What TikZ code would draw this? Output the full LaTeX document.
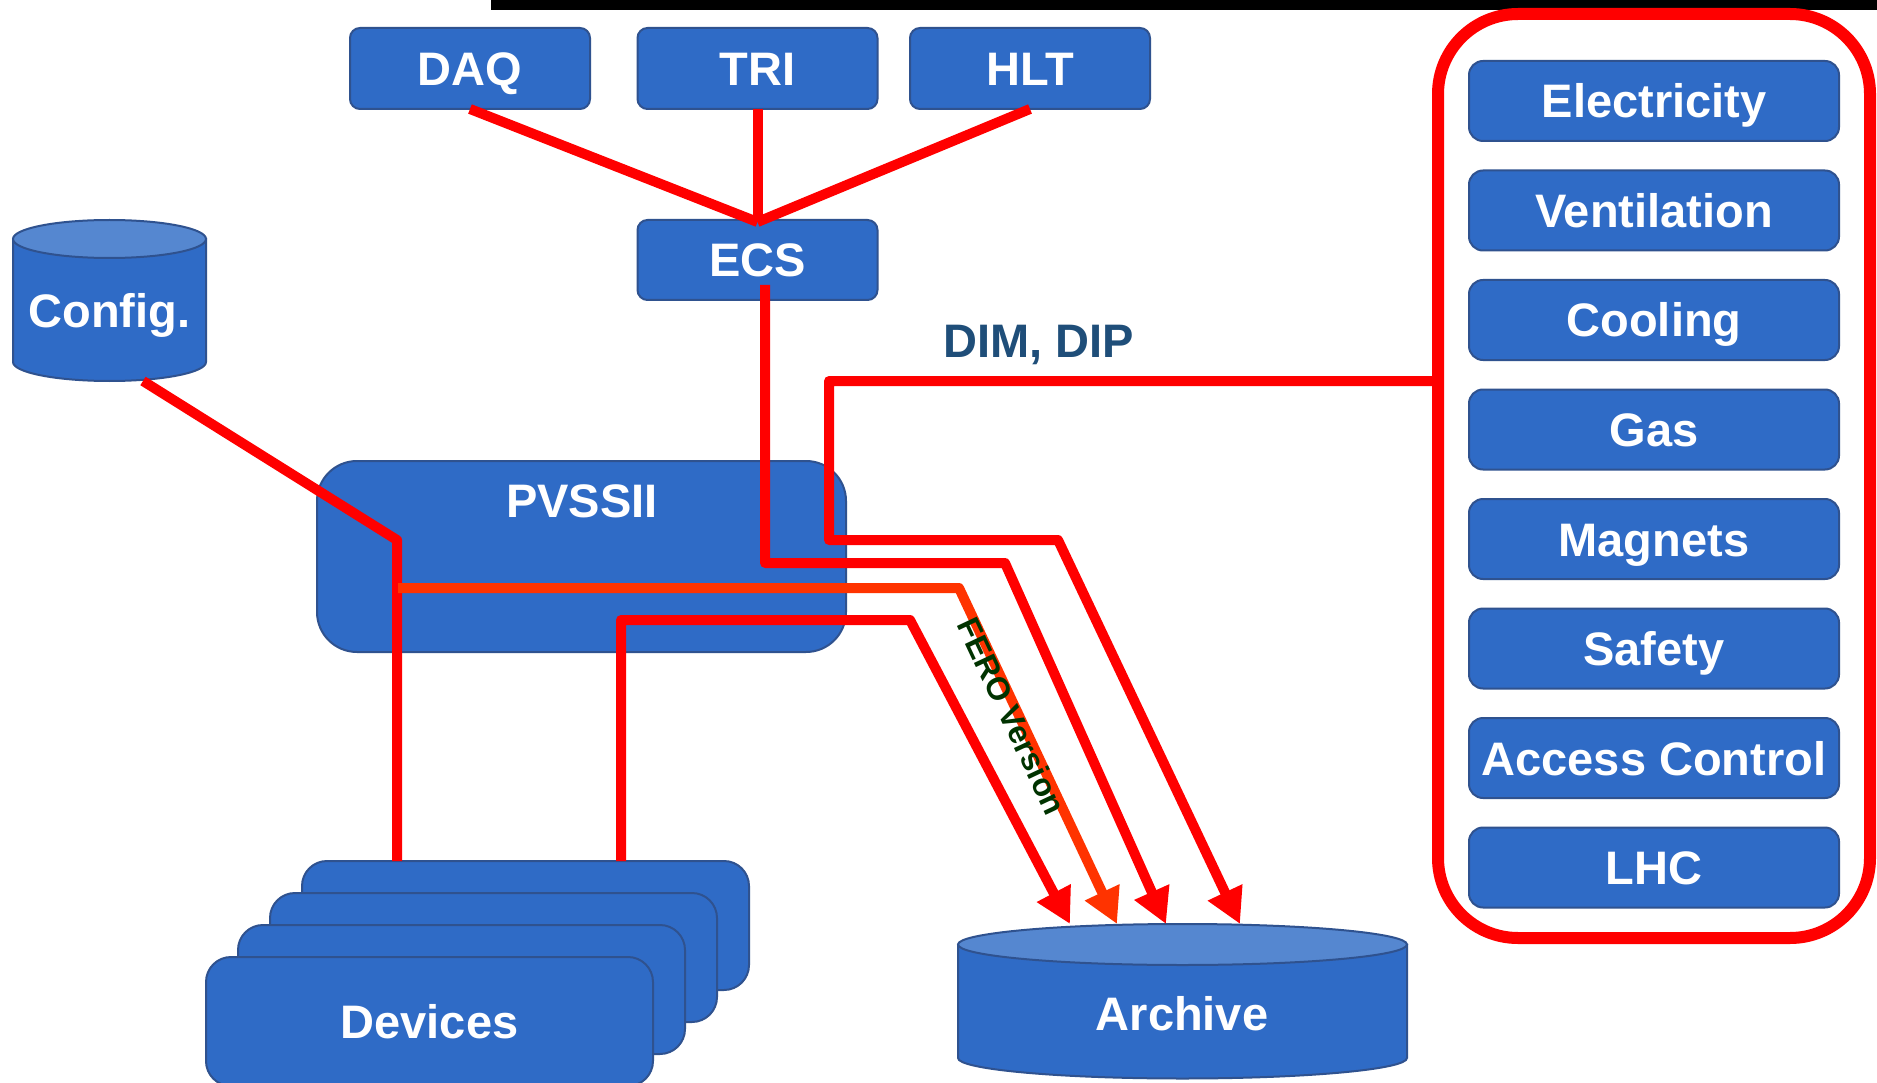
\documentclass[tikz,border=0pt]{standalone}
\usepackage{fontspec}
\setmainfont{Liberation Sans}
\usetikzlibrary{arrows.meta}
\definecolor{boxblue}{HTML}{2F6BC6}
\definecolor{boxedge}{HTML}{2F528F}
\definecolor{cyltop}{HTML}{5587D0}
\definecolor{linkred}{HTML}{FF0000}
\definecolor{feroorange}{HTML}{FF3300}
\definecolor{ferogreen}{HTML}{003300}
\definecolor{dimblue}{HTML}{1F4E79}
\tikzset{
  bigfont/.style={font=\fontsize{47}{56}\selectfont\bfseries},
  bluebox/.style={draw=boxedge, line width=2pt, fill=boxblue, rounded corners=#1,
    text=white, bigfont, text height=34pt, text depth=0pt, inner sep=0pt, outer sep=0pt},
  bluebox/.default=10pt,
  whitelabel/.style={text=white, bigfont, text height=34pt, text depth=0pt, inner sep=0pt},
  cylbody/.style={draw=boxedge, line width=2pt, fill=boxblue},
  cyllid/.style={draw=boxedge, line width=2pt, fill=cyltop},
  link/.style={draw=linkred, line width=10pt, line join=round},
  ferolink/.style={draw=feroorange, line width=10pt, line join=round},
  archtip/.style={-{Triangle[length=35pt,width=36pt]}}
}
\begin{document}
\begin{tikzpicture}[x=1pt,y=-1pt]
\useasboundingbox (0,0) rectangle (1877,1083);
\fill[white] (0,0) rectangle (1877,1083);
% top black bar
\fill[black] (491,0) rectangle (1877,10);

% right frame
\node[draw=linkred, line width=12pt, rounded corners=80pt, minimum width=432pt,
  minimum height=924pt, inner sep=0pt] (frame) at (1654,476) {};
\foreach \nm/\txt [count=\i from 0] in {elec/Electricity, vent/Ventilation, cool/Cooling,
  gas/Gas, magn/Magnets, safe/Safety, acc/Access Control, lhc/LHC}{
  \pgfmathsetmacro\yy{101+109.5*\i}
  \node[bluebox=14pt, minimum width=370pt, minimum height=80pt] (\nm) at (1654,\yy) {\txt};
}

% top boxes
\node[bluebox, minimum width=240pt, minimum height=81pt] (daq) at (470,68.5) {DAQ};
\node[bluebox, minimum width=240pt, minimum height=81pt] (tri) at (757.5,68.5) {TRI};
\node[bluebox, minimum width=240pt, minimum height=81pt] (hlt) at (1030,68.5) {HLT};
\node[bluebox, minimum width=240pt, minimum height=80pt] (ecs) at (757.5,260) {ECS};

% PVSSII
\node[bluebox=40pt, minimum width=529pt, minimum height=191pt] (pvss) at (581.5,556.5) {};
\node[whitelabel] (pvsslabel) at (582,500) {PVSSII};

% Devices stack
\node[bluebox=25pt, minimum width=447pt, minimum height=129pt] (dev4) at (525.5,925.5) {};
\node[bluebox=25pt, minimum width=447pt, minimum height=129pt] (dev3) at (493.5,957.5) {};
\node[bluebox=25pt, minimum width=447pt, minimum height=129pt] (dev2) at (461.5,989.5) {};
\node[bluebox=25pt, minimum width=447pt, minimum height=129pt] (dev1) at (429.5,1021.5) {Devices};

% Config cylinder
\path[cylbody] (13,239) -- (13,362) arc[start angle=180, end angle=360, x radius=96.5pt, y radius=19pt] -- (206,239) -- cycle;
\path[cyllid] (109.5,239) ellipse [x radius=96.5pt, y radius=19pt];
\node[whitelabel] (config) at (109.5,311) {Config.};

% Archive cylinder
\path[cylbody] (958,944.5) -- (958,1058) arc[start angle=180, end angle=360, x radius=224.5pt, y radius=20.5pt] -- (1407,944.5) -- cycle;
\path[cyllid] (1182.5,944.5) ellipse [x radius=224.5pt, y radius=20.5pt];
\node[whitelabel] (archive) at (1182,1013) {Archive};

% connection points
\coordinate (ecsapex) at (757.5,222);
\coordinate (ecsout) at (765,285);
\coordinate (dimstart) at (1438,381);
\coordinate (cfgout) at (143,381);
\coordinate (devin1) at (397,861);
\coordinate (devin2) at (621,861);
\coordinate (arch1) at (1070,924);
\coordinate (arch2) at (1117,924);
\coordinate (arch3) at (1166,924);
\coordinate (arch4) at (1240,924);

% top links
\draw[link] (daq.south) -- (ecsapex);
\draw[link] (tri.south) -- (ecsapex);
\draw[link] (hlt.south) -- (ecsapex);

% DIM, DIP
\node[text=dimblue, bigfont, text height=34pt, text depth=0pt, inner sep=0pt] (dimlabel) at (1039,340) {DIM, DIP};
\draw[link, archtip] (dimstart) -- (829,381) -- (829,540) -- (1058,540) -- (arch4);

% ECS to archive
\draw[link, archtip] (ecsout) -- (765,563) -- (1005,563) -- (arch3);

% Config to devices
\draw[link] (cfgout) -- (397,540) -- (devin1);

% Devices to archive
\draw[link, archtip] (devin2) -- (621,620) -- (910,620) -- (arch1);

% FERO version
\draw[ferolink, archtip] (398,588) -- (959,588) -- (arch2);
\node[text=ferogreen, font=\fontsize{32}{38}\selectfont\bfseries, rotate=-64.8, inner sep=0pt] (ferolabel) at (1012,716) {FERO Version};
\end{tikzpicture}
\end{document}
